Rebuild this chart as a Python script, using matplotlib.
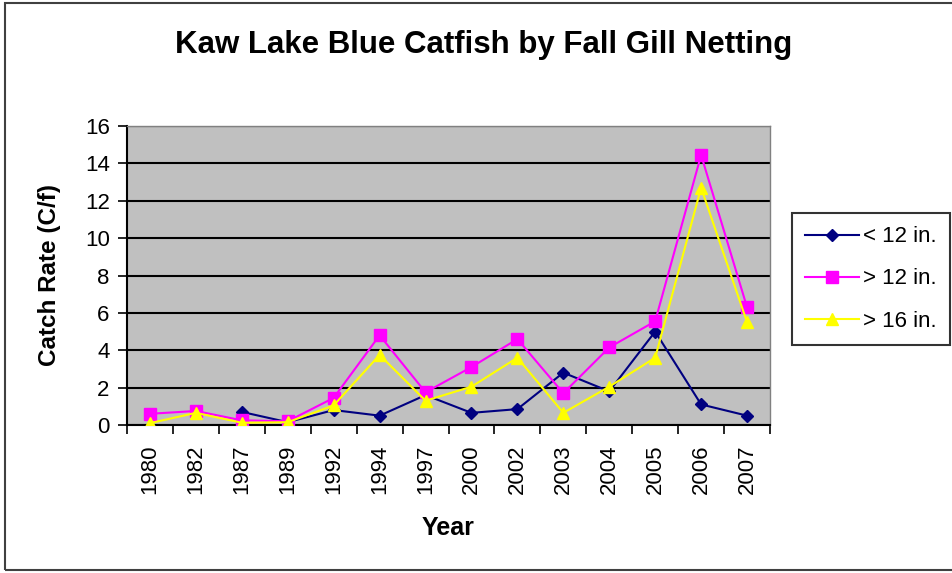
import matplotlib
matplotlib.use("Agg")
import matplotlib.pyplot as plt
import numpy as np
from matplotlib.patches import Rectangle

years = ["1980", "1982", "1987", "1989", "1992", "1994", "1997", "2000",
         "2002", "2003", "2004", "2005", "2006", "2007"]
under12 = [None, None, 0.7, 0.15, 0.8, 0.5, 1.6, 0.65, 0.85, 2.8, 1.8, 5.0, 1.1, 0.5]
over12 = [0.6, 0.75, 0.25, 0.2, 1.45, 4.8, 1.75, 3.1, 4.6, 1.7, 4.15, 5.55, 14.45, 6.3]
over16 = [0.1, 0.65, 0.12, 0.15, 1.05, 3.75, 1.3, 2.05, 3.6, 0.65, 2.05, 3.6, 12.7, 5.5]
series_names = ["< 12 in.", "> 12 in.", "> 16 in."]

plt.rcParams['font.family'] = ['Liberation Sans', 'DejaVu Sans']

fig = plt.figure(figsize=(9.52, 5.73), dpi=100)
fig.patches.append(Rectangle((0.005, 0.006), 1.2, 0.988, transform=fig.transFigure,
                             fill=False, edgecolor='#404040', linewidth=1.5, zorder=0))
ax = fig.add_axes([127/952, 1-425/573, (770-127)/952, (425-126)/573])
ax.set_facecolor('#C0C0C0')

x = np.arange(len(years))
u = np.array([np.nan if v is None else v for v in under12], dtype=float)
ax.plot(x, u, color='#000080', marker='D', markersize=6.5, linewidth=1.5, label=series_names[0], zorder=3)
ax.plot(x, over12, color='#FF00FF', marker='s', markersize=8, linewidth=1.5, label=series_names[1], zorder=4)
ax.plot(x, over16, color='#FFFF00', marker='^', markersize=9, linewidth=1.5, label=series_names[2], zorder=5)

ax.set_xlim(-0.5, len(years) - 0.5)
ax.set_ylim(0, 16)
ax.set_yticks(np.arange(0, 17, 2))
ax.yaxis.grid(True, color='black', linewidth=1.5)
ax.set_axisbelow(True)
ax.set_xticks(x)
ax.set_xticklabels(years, rotation=90, fontsize=16)
ax.set_xticks(np.arange(-0.5, len(years), 1), minor=True)
ax.tick_params(axis='x', which='major', length=0, pad=14)
ax.tick_params(axis='x', which='minor', length=6.5, width=1.2, direction='out')
ax.tick_params(axis='y', labelsize=16, length=6.5, width=1.2, direction='out', pad=6)
for s in ['left', 'bottom']:
    ax.spines[s].set_color('black')
    ax.spines[s].set_linewidth(1.5)
for s in ['top', 'right']:
    ax.spines[s].set_color('#808080')
    ax.spines[s].set_linewidth(1.0)

ax.set_xlabel('Year', fontsize=18, fontweight='bold', labelpad=16)
ax.set_ylabel('Catch Rate (C/f)', fontsize=17.5, fontweight='bold', labelpad=17)
fig.text(484/952, 1-53/573, 'Kaw Lake Blue Catfish by Fall Gill Netting',
         ha='center', va='baseline', fontsize=22.5, fontweight='bold')

leg = fig.legend(loc='upper left', bbox_to_anchor=(792/952, 1-213/573),
                 fontsize=16, frameon=True, fancybox=False, edgecolor='black',
                 handlelength=2.4, borderpad=0.6, labelspacing=0.95, handletextpad=0.2,
                 borderaxespad=0)
leg.get_frame().set_linewidth(1.5)

fig.savefig('out.png', dpi=100)
